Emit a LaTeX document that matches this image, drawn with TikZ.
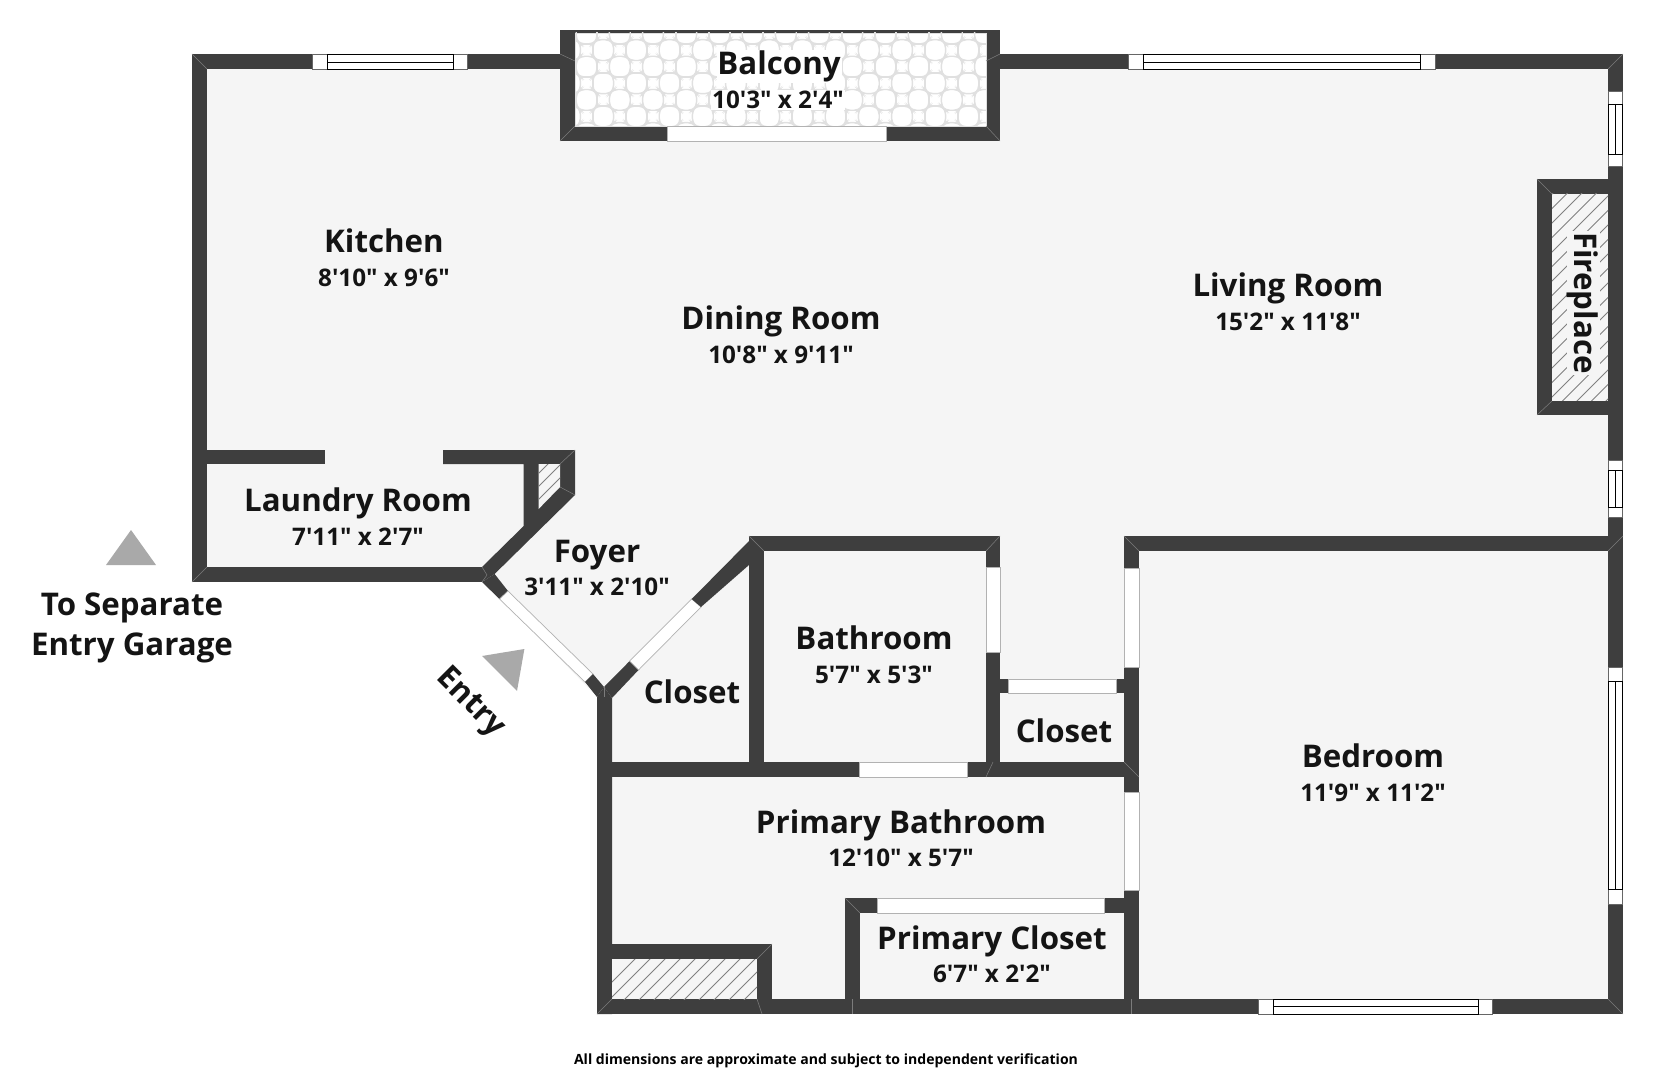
\documentclass[tikz,border=0pt]{standalone}
\usepackage{fontspec}
\newfontfamily\planfont{Open Sans}
\definecolor{wallc}{HTML}{3E3E3E}
\definecolor{floorc}{HTML}{F5F5F5}
\definecolor{tilec}{HTML}{E0E0E0}
\definecolor{seamc}{HTML}{7C7C7C}
\definecolor{markc}{HTML}{A9A9A9}
\begin{document}
\begin{tikzpicture}[x=0.02cm,y=-0.02cm,line join=miter,
	wall/.style={fill=wallc},
	opening/.style={fill=white,draw=black!30,line width=0.4pt},
	pane/.style={fill=white,draw=black!60,line width=0.4pt},
	glass/.style={draw=black,line width=0.5pt},
	seam/.style={draw=seamc,line width=0.3pt},
	hatchline/.style={draw=black!50,line width=0.45pt},
	room/.style={font=\planfont\fontsize{17.8}{20}\selectfont\bfseries,inner sep=0pt,text=black!92,anchor=base},
	dims/.style={font=\planfont\fontsize{13.8}{17}\selectfont\bfseries,inner sep=0pt,text=black!92,anchor=base},
	onpattern/.style={fill=white,inner sep=0.5pt},
	arrowmark/.style={fill=markc}]
	\useasboundingbox (0,0) rectangle (1653,1074);
	% floor
	\fill[floorc] (192,54) -- (1623,54) -- (1623,1014) -- (597,1014) -- (597,697) -- (482,579) -- (192,582) -- cycle;
	% balcony
	\fill[wallc] (560,30) rectangle (1000,141);
	\fill[white] (575,33) rectangle (986,126);
	\begin{scope}
		\clip (575,33) rectangle (986,126);
		\foreach \i in {0,...,25} \foreach \j in {0,...,6} {
			\pgfmathsetmacro{\cx}{570+16.6*\i}
			\pgfmathsetmacro{\cy}{33.5+16.6*\j}
			\ifodd\numexpr\i+\j\relax
				\draw[tilec,line width=0.8pt,rounded corners=2.5pt] (\cx-6.2,\cy-10.4) -- (\cx+6.2,\cy-10.4) -- (\cx+10.4,\cy-6.2) -- (\cx+10.4,\cy+6.2) -- (\cx+6.2,\cy+10.4) -- (\cx-6.2,\cy+10.4) -- (\cx-10.4,\cy+6.2) -- (\cx-10.4,\cy-6.2) -- cycle;
			\else
				\draw[tilec,line width=0.8pt] (\cx-6.2,\cy-6.2) rectangle (\cx+6.2,\cy+6.2);
			\fi
		}
	\end{scope}
	\draw[tilec,line width=0.5pt] (575,33) rectangle (986,126);
	\draw[opening] (667.5,126) rectangle (886,141);
	% outer walls
	\fill[wall] (192,54) rectangle (560,69);
	\fill[wall] (1000,54) rectangle (1623,69);
	\fill[wall] (192,54) rectangle (207,582);
	\fill[wall] (1608,54) rectangle (1623,1014);
	\fill[wall] (597,999) rectangle (1623,1014);
	\fill[wall] (192,567) rectangle (482,582);
	\fill[wall] (597,697) -- (604,687) -- (612,698) -- (612,1014) -- (597,1014) -- cycle;
	% laundry room and its cupboard
	\fill[wall] (207,450) rectangle (325,464);
	\fill[wall] (443,450) -- (575,450) -- (575,495) -- (494.6,574) -- (482,582) -- (482,567) -- (523.7,526) -- (523.7,464) -- (443,464) -- cycle;
	\fill[floorc] (538.6,464) -- (560,464) -- (560,487) -- (538.6,509) -- cycle;
	\begin{scope}
		\clip (538.6,464) -- (560,464) -- (560,487) -- (538.6,509) -- cycle;
		\foreach \k in {0,...,5} \draw[hatchline] (530,{482+\k*13}) -- (570,{442+\k*13});
	\end{scope}
	% entry walls
	\fill[wall] (482,582) -- (494.6,574) -- (508,591) -- (499.5,599) -- cycle;
	\draw[opening] (508,591) -- (593,674) -- (585,682) -- (499.5,599) -- cycle;
	\fill[wall] (593,674) -- (604,687) -- (597,697) -- (585,682) -- cycle;
	\fill[wall] (604,687) -- (629.7,661) -- (638.5,670) -- (612,698) -- cycle;
	\draw[opening] (629.7,661) -- (691.7,599) -- (701,607) -- (638.5,670) -- cycle;
	\fill[wall] (691.7,599) -- (754,536) -- (764,551) -- (749,565) -- (701,607) -- cycle;
	% inner walls
	\fill[wall] (749,536) rectangle (1000,551);
	\fill[wall] (749,536) rectangle (764,777);
	\fill[wall] (986,536) rectangle (1000,777);
	\fill[wall] (1124,536) rectangle (1623,551);
	\fill[wall] (1124,536) rectangle (1139,1014);
	\fill[wall] (612,762) rectangle (1124,777);
	\fill[wall] (1000,679) rectangle (1124,693);
	\fill[wall] (845,898) rectangle (1124,913);
	\fill[wall] (845,898) rectangle (860,1014);
	\foreach \xa/\ya/\xb/\yb in {986/567/1000/652,1124/568/1139/667,1124/792/1139/890,1008/679/1116/693,859/762/967/777,877/898/1104/913}
		\draw[opening] (\xa,\ya) rectangle (\xb,\yb);
	% fireplace and shaft
	\fill[wall] (1537,179) rectangle (1608,415);
	\fill[floorc] (1552,194) rectangle (1608,401);
	\begin{scope}
		\clip (1552,194) rectangle (1608,401);
		\foreach \k in {0,...,18} \draw[hatchline] (1540,{206+\k*14.5}) -- (1620,{126+\k*14.5});
	\end{scope}
	\fill[wall] (597,944) rectangle (772,1014);
	\fill[floorc] (612,959) rectangle (757,999);
	\begin{scope}
		\clip (612,959) rectangle (757,999);
		\foreach \k in {0,...,13} \draw[hatchline] ({590+\k*15},1004) -- ({640+\k*15},954);
	\end{scope}
	% windows
	\foreach \xa/\xb/\xc/\xd in {312/327/453/467,1128/1143/1420/1435} {
		\draw[pane] (\xa,54.5) rectangle (\xd,69);
		\draw[glass] (\xb,54.5) rectangle (\xc,69);
		\draw[glass] (\xb,62) -- (\xc,62);
	}
	\draw[pane] (1258,999) rectangle (1492,1014);
	\draw[glass] (1273,999) rectangle (1478,1014);
	\draw[glass] (1273,1006.5) -- (1478,1006.5);
	\foreach \ya/\yb/\yc/\yd in {91/104/154/166,460/470/507/517,667/681/889/904} {
		\draw[pane] (1608.5,\ya) rectangle (1622.5,\yd);
		\draw[glass] (1608.5,\yb) rectangle (1622.5,\yc);
		\draw[glass] (1615.5,\yb) -- (1615.5,\yc);
	}
	% mitre joints
	\foreach \xa/\ya/\xb/\yb in {192/54/207/69,1623/54/1608/69,1623/1014/1608/999,192/582/207/567,
		560/141/575/126,1000/141/986/126,560/54/575/61,1000/54/986/61,1537/179/1552/194,1537/415/1552/401,
		597/1014/612/999,772/944/757/959,757/999/762/1014,845/898/860/913,852/999/852/1014,1131/999/1131/1014,
		1000/536/986/551,1124/536/1139/551,749/536/764/551,1623/536/1608/551,1124/762/1139/777,986/777/993/762,
		575/450/560/464,575/495/560/487,482/567/487/575,482/582/487/575,604/687/604/697}
		\draw[seam] (\xa,\ya) -- (\xb,\yb);
	% arrows
	\fill[arrowmark] (106,565) -- (156,565) -- (131,530) -- cycle;
	\fill[arrowmark] (482,656) -- (524.4,649) -- (517,691) -- cycle;
	% labels
	\node[room,onpattern] (balcony) at (779,75) {Balcony};
	\node[dims,onpattern] (balconydim) at (778,108.5) {10'3" x 2'4"};
	\node[room] (kitchen) at (384,253) {Kitchen};
	\node[dims] (kitchendim) at (384,286.5) {8'10" x 9'6"};
	\node[room] (dining) at (781,330) {Dining Room};
	\node[dims] (diningdim) at (781,363.5) {10'8" x 9'11"};
	\node[room] (living) at (1288,297) {Living Room};
	\node[dims] (livingdim) at (1288,330.5) {15'2" x 11'8"};
	\node[room,onpattern,fill=floorc,rotate=-90,anchor=center] (fireplace) at (1583,303) {Fireplace};
	\node[room] (laundry) at (358,511) {Laundry Room};
	\node[dims] (laundrydim) at (358,545) {7'11" x 2'7"};
	\node[room] (foyer) at (597,562) {Foyer};
	\node[dims] (foyerdim) at (597,595.5) {3'11" x 2'10"};
	\node[room] (garagea) at (132,615.5) {To Separate};
	\node[room] (garageb) at (132,655.5) {Entry Garage};
	\node[room,rotate=-45,anchor=center] (entry) at (470,703) {Entry};
	\node[room] (closeta) at (692,703) {Closet};
	\node[room] (closetb) at (1064,742) {Closet};
	\node[room] (bath) at (874,649.5) {Bathroom};
	\node[dims] (bathdim) at (874,683) {5'7" x 5'3"};
	\node[room] (bed) at (1373,767.5) {Bedroom};
	\node[dims] (beddim) at (1373,801) {11'9" x 11'2"};
	\node[room] (pbath) at (901,833) {Primary Bathroom};
	\node[dims] (pbathdim) at (901,866) {12'10" x 5'7"};
	\node[room] (pcloset) at (992,949) {Primary Closet};
	\node[dims] (pclosetdim) at (992,982) {6'7" x 2'2"};
	\node[font=\planfont\fontsize{8}{10}\selectfont\bfseries,inner sep=0pt] (note) at (826,1061) {All dimensions are approximate and subject to independent verification};
\end{tikzpicture}
\end{document}
